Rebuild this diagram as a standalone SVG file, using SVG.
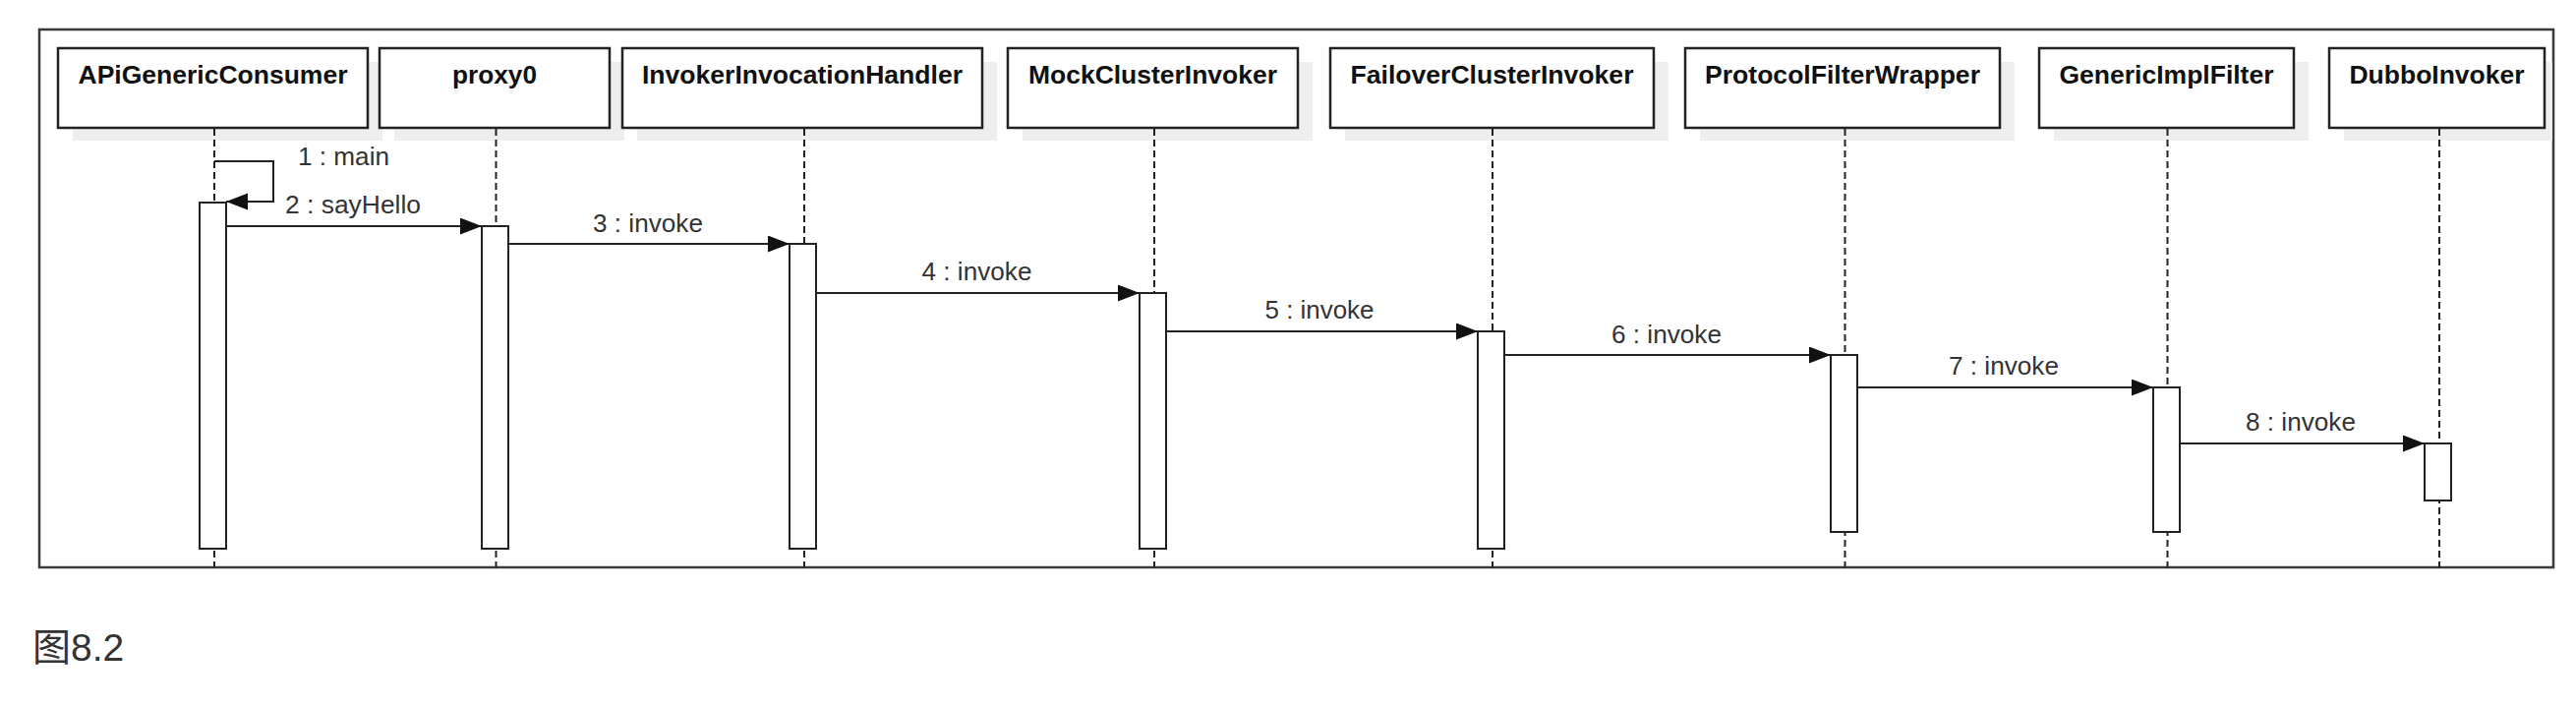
<svg xmlns="http://www.w3.org/2000/svg" width="2620" height="718" viewBox="0 0 2620 718">
<style>
  .frame{fill:none;stroke:#3a3a3a;stroke-width:2.5}
  .shadow{fill:#eeeeee;stroke:none}
  .box{fill:#ffffff;stroke:#222222;stroke-width:2.5}
  .title{font-family:"Liberation Sans",Arial,sans-serif;font-size:26px;font-weight:bold;fill:#111111;text-anchor:middle}
  .life{stroke:#222222;stroke-width:2;stroke-dasharray:7,4;fill:none}
  .bar{fill:#ffffff;stroke:#222222;stroke-width:2}
  .msg{fill:none;stroke:#222222;stroke-width:2}
  .lbl{font-family:"Liberation Sans",Arial,sans-serif;font-size:26px;fill:#333333;text-anchor:middle}
  .cap{font-family:"Liberation Sans","Noto Sans CJK SC",sans-serif;font-size:39px;fill:#333333}
</style>
<defs>
  <marker id="arrow" markerUnits="userSpaceOnUse" markerWidth="24" markerHeight="18" refX="22" refY="8.5" orient="auto">
    <path d="M0,0 L22,8.5 L0,17 Z" fill="#111111"/>
  </marker>
</defs>
<rect width="2620" height="718" fill="#ffffff"/>
<rect class="frame" x="40" y="30" width="2557" height="547"/>

<g id="node-APiGenericConsumer">
  <rect class="shadow" x="74" y="63" width="315" height="80"/>
  <rect class="box" x="59" y="49" width="315" height="81"/>
  <text class="title" x="216.5" y="85" textLength="274" lengthAdjust="spacingAndGlyphs">APiGenericConsumer</text>
  <line class="life" x1="218" y1="131" x2="218" y2="577"/>
  <rect class="bar" x="203" y="206" width="27" height="352"/>
</g>
<g id="node-proxy0">
  <rect class="shadow" x="401" y="63" width="234" height="80"/>
  <rect class="box" x="386" y="49" width="234" height="81"/>
  <text class="title" x="503" y="85" textLength="86" lengthAdjust="spacingAndGlyphs">proxy0</text>
  <line class="life" x1="504.5" y1="131" x2="504.5" y2="577"/>
  <rect class="bar" x="490" y="230" width="27" height="328"/>
</g>
<g id="node-InvokerInvocationHandler">
  <rect class="shadow" x="648" y="63" width="366" height="80"/>
  <rect class="box" x="633" y="49" width="366" height="81"/>
  <text class="title" x="816" y="85" textLength="326" lengthAdjust="spacingAndGlyphs">InvokerInvocationHandler</text>
  <line class="life" x1="818" y1="131" x2="818" y2="577"/>
  <rect class="bar" x="803" y="248" width="27" height="310"/>
</g>
<g id="node-MockClusterInvoker">
  <rect class="shadow" x="1040" y="63" width="295" height="80"/>
  <rect class="box" x="1025" y="49" width="295" height="81"/>
  <text class="title" x="1172.5" y="85" textLength="253" lengthAdjust="spacingAndGlyphs">MockClusterInvoker</text>
  <line class="life" x1="1174" y1="131" x2="1174" y2="577"/>
  <rect class="bar" x="1159" y="298" width="27" height="260"/>
</g>
<g id="node-FailoverClusterInvoker">
  <rect class="shadow" x="1368" y="63" width="329" height="80"/>
  <rect class="box" x="1353" y="49" width="329" height="81"/>
  <text class="title" x="1517.5" y="85" textLength="288" lengthAdjust="spacingAndGlyphs">FailoverClusterInvoker</text>
  <line class="life" x1="1518" y1="131" x2="1518" y2="577"/>
  <rect class="bar" x="1503" y="337" width="27" height="221"/>
</g>
<g id="node-ProtocolFilterWrapper">
  <rect class="shadow" x="1729" y="63" width="320" height="80"/>
  <rect class="box" x="1714" y="49" width="320" height="81"/>
  <text class="title" x="1874" y="85" textLength="280" lengthAdjust="spacingAndGlyphs">ProtocolFilterWrapper</text>
  <line class="life" x1="1876.5" y1="131" x2="1876.5" y2="577"/>
  <rect class="bar" x="1862" y="361" width="27" height="180"/>
</g>
<g id="node-GenericImplFilter">
  <rect class="shadow" x="2089" y="63" width="259" height="80"/>
  <rect class="box" x="2074" y="49" width="259" height="81"/>
  <text class="title" x="2203.5" y="85" textLength="218" lengthAdjust="spacingAndGlyphs">GenericImplFilter</text>
  <line class="life" x1="2204.5" y1="131" x2="2204.5" y2="577"/>
  <rect class="bar" x="2190" y="394" width="27" height="147"/>
</g>
<g id="node-DubboInvoker">
  <rect class="shadow" x="2384" y="63" width="212" height="80"/>
  <rect class="box" x="2369" y="49" width="219" height="81"/>
  <text class="title" x="2478.5" y="85" textLength="178" lengthAdjust="spacingAndGlyphs">DubboInvoker</text>
  <line class="life" x1="2481" y1="131" x2="2481" y2="577"/>
  <rect class="bar" x="2466" y="451" width="27" height="58"/>
</g>

<g id="connectors">
  <path class="msg" d="M218,164 H278 V205 H230" marker-end="url(#arrow)"/>
  <text class="lbl" x="303" y="168" style="text-anchor:start" textLength="93" lengthAdjust="spacingAndGlyphs">1 : main</text>
  <path class="msg" d="M230,230 H490" marker-end="url(#arrow)"/>
  <text class="lbl" x="359" y="217" textLength="138" lengthAdjust="spacingAndGlyphs">2 : sayHello</text>
  <path class="msg" d="M517,248 H803" marker-end="url(#arrow)"/>
  <text class="lbl" x="659" y="236" textLength="112" lengthAdjust="spacingAndGlyphs">3 : invoke</text>
  <path class="msg" d="M830,298 H1159" marker-end="url(#arrow)"/>
  <text class="lbl" x="993.5" y="285" textLength="112" lengthAdjust="spacingAndGlyphs">4 : invoke</text>
  <path class="msg" d="M1186,337 H1503" marker-end="url(#arrow)"/>
  <text class="lbl" x="1342" y="324" textLength="111" lengthAdjust="spacingAndGlyphs">5 : invoke</text>
  <path class="msg" d="M1530,361 H1862" marker-end="url(#arrow)"/>
  <text class="lbl" x="1695" y="349" textLength="112" lengthAdjust="spacingAndGlyphs">6 : invoke</text>
  <path class="msg" d="M1889,394 H2190" marker-end="url(#arrow)"/>
  <text class="lbl" x="2038" y="381" textLength="112" lengthAdjust="spacingAndGlyphs">7 : invoke</text>
  <path class="msg" d="M2217,451 H2466" marker-end="url(#arrow)"/>
  <text class="lbl" x="2340" y="438" textLength="112" lengthAdjust="spacingAndGlyphs">8 : invoke</text>
</g>

<text class="cap" x="33" y="672">图8.2</text>
</svg>
